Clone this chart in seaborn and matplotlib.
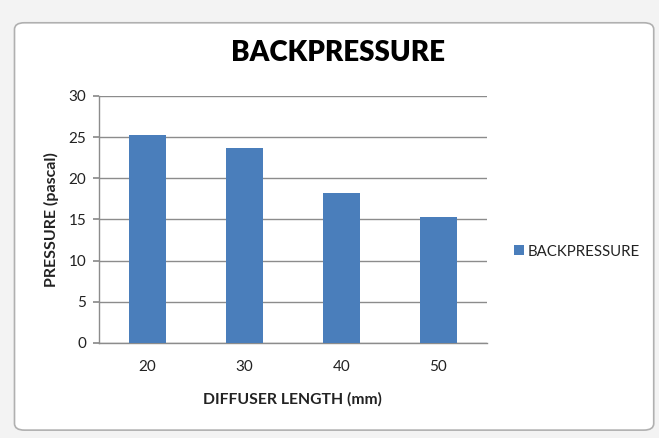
import matplotlib
matplotlib.use("Agg")
import matplotlib.pyplot as plt
import seaborn as sns
import pandas as pd
from matplotlib.patches import FancyBboxPatch

# data
lengths = ["20", "30", "40", "50"]
pressure = [25.2, 23.7, 18.2, 15.3]
series_name = "BACKPRESSURE"
yticks = [0, 5, 10, 15, 20, 25, 30]

df = pd.DataFrame({"length": lengths, "pressure": pressure, "series": series_name})

sns.set_theme(style="white")
plt.rcParams["font.family"] = ["Lato", "DejaVu Sans"]

fig = plt.figure(figsize=(6.59, 4.38), dpi=100, facecolor="#f3f3f3")

# chart area frame (Excel-style white rounded box), kept behind the axes
frame = FancyBboxPatch((0.022, 0.018), 0.97, 0.93,
                       boxstyle="round,pad=0,rounding_size=0.015",
                       transform=fig.transFigure, facecolor="white",
                       edgecolor="#b0b0b0", linewidth=1.2, zorder=-5)
fig.patches.append(frame)

ax = fig.add_axes([0.150, 0.217, 0.589, 0.564])
ax.set_facecolor("none")

sns.barplot(data=df, x="length", y="pressure", hue="series",
            palette=["#4a7ebb"], width=0.38, ax=ax, zorder=3,
            saturation=1, linewidth=0)

# title
fig.text(0.513, 0.878, "BACKPRESSURE", ha="center", va="center",
         fontsize=20, fontweight="heavy", color="black")

# axes
ax.set_ylim(0, 30)
ax.set_yticks(yticks)
ax.grid(axis="y", color="#8c8c8c", linewidth=1, zorder=0)
ax.set_axisbelow(True)
ax.tick_params(axis="y", labelsize=11, length=4, color="#8c8c8c",
               left=True, pad=5, labelcolor="#222222")
ax.tick_params(axis="x", labelsize=11, length=0, pad=12, labelcolor="#222222")
for side in ["top", "right"]:
    ax.spines[side].set_visible(False)
for side in ["left", "bottom"]:
    ax.spines[side].set_color("#8c8c8c")
    ax.spines[side].set_linewidth(1)

ax.set_xlabel("DIFFUSER LENGTH (mm)", fontsize=11.3, fontweight="bold",
              color="#222222", labelpad=13)
ax.set_ylabel("PRESSURE (pascal)", fontsize=11.5, fontweight="bold",
              color="#222222", labelpad=7)

# legend
ax.legend(loc="center left", bbox_to_anchor=(1.035, 0.37), frameon=False,
          fontsize=10.8, handlelength=0.65, handleheight=0.65,
          handletextpad=0.25, labelcolor="#222222")

fig.savefig("out.png", dpi=100, facecolor=fig.get_facecolor())
